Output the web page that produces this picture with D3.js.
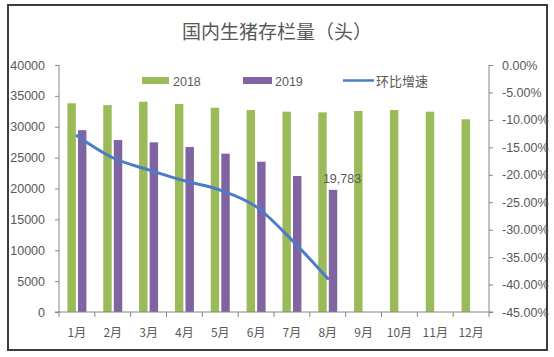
<!DOCTYPE html>
<html>
<head>
<meta charset="utf-8">
<script src="https://cdn.jsdelivr.net/npm/d3@7/dist/d3.min.js"></script>
<style>
html,body{margin:0;padding:0;background:#fff;}
svg{display:block;}
text{font-family:"Liberation Sans","Noto Sans CJK SC",sans-serif;fill:#595959;}
.cjk{font-family:"Noto Sans CJK SC",sans-serif;}
</style>
</head>
<body>
<svg id="chart" width="554" height="357"></svg>
<script>
const months = ["1月","2月","3月","4月","5月","6月","7月","8月","9月","10月","11月","12月"];
const series = ["2018","2019"];
const values2018 = [33800,33500,34050,33680,33080,32710,32440,32330,32550,32710,32440,31210];
const values2019 = [29450,27850,27480,26720,25640,24340,22020,19783];
const growth = [-12.9,-16.9,-19.1,-21.1,-22.8,-25.8,-31.9,-38.9];
const leftTicks = [0,5000,10000,15000,20000,25000,30000,35000,40000];
const rightTicks = [0,-5,-10,-15,-20,-25,-30,-35,-40,-45];
const labelText = "19,783";

const svg = d3.select("#chart");
const colors = {"2018":"#9BBB59","2019":"#8064A2",line:"#4A7CC7"};
const plot = {left:59,right:489,top:65,bottom:312};

// border
svg.append("rect").attr("x",8).attr("y",5).attr("width",539).attr("height",345)
  .attr("fill","#fff").attr("stroke","#3c3c3c").attr("stroke-width",2);

const x = d3.scaleBand().domain(months).range([plot.left,plot.right]).paddingInner(0).paddingOuter(0);
const bw = x.bandwidth();
const x1 = d3.scaleBand().domain(series).range([bw/2-9.5,bw/2+9.5]).paddingInner(0.2);
const yL = d3.scaleLinear().domain([0,40000]).range([plot.bottom,plot.top]);
const yR = d3.scaleLinear().domain([-45,0]).range([plot.bottom,plot.top]);

// bars
const data2018 = months.map((m,i)=>({m,v:values2018[i],s:"2018"}));
const data2019 = values2019.map((v,i)=>({m:months[i],v,s:"2019"}));
[data2018,data2019].forEach(d=>{
  svg.append("g").selectAll("rect").data(d).join("rect")
    .attr("x",e=>x(e.m)+x1(e.s))
    .attr("width",x1.bandwidth())
    .attr("y",e=>yL(e.v))
    .attr("height",e=>yL(0)-yL(e.v))
    .attr("fill",e=>colors[e.s]);
});

// line
const lineGen = d3.line().x((d,i)=>x(months[i])+bw/2).y(d=>yR(d)).curve(d3.curveMonotoneX);
svg.append("path").datum(growth).attr("d",lineGen).attr("fill","none")
  .attr("stroke",colors.line).attr("stroke-width",3).attr("stroke-linecap","round");

// data label
svg.append("text")
  .attr("x",x(months[7])+x1("2019")+x1.bandwidth()/2+9)
  .attr("y",yL(values2019[7])-7)
  .attr("text-anchor","middle").attr("font-size",12.5).text(labelText);

// left axis
const axisColor = "#868686";
const gL = svg.append("g").attr("transform",`translate(${plot.left},0)`)
  .call(d3.axisLeft(yL).tickValues(leftTicks).tickSize(4).tickPadding(10).tickFormat(d3.format("d")));
gL.select(".domain").attr("stroke",axisColor).attr("d",`M-0,${plot.top}V${plot.bottom}`);
gL.selectAll(".tick line").attr("stroke",axisColor);
gL.selectAll(".tick text").attr("font-size",12.5).attr("fill","#595959")
  .style("font-family","'Liberation Sans',sans-serif");

// right axis
const gR = svg.append("g").attr("transform",`translate(${plot.right},0)`)
  .call(d3.axisRight(yR).tickValues(rightTicks).tickSize(4).tickPadding(9).tickFormat(d=>d.toFixed(2)+"%"));
gR.select(".domain").attr("stroke",axisColor).attr("d",`M0,${plot.top}V${plot.bottom}`);
gR.selectAll(".tick line").attr("stroke",axisColor);
gR.selectAll(".tick text").attr("font-size",12.5).attr("fill","#595959")
  .style("font-family","'Liberation Sans',sans-serif");

// bottom axis
const gB = svg.append("g");
gB.append("line").attr("x1",plot.left-4).attr("x2",plot.right+4)
  .attr("y1",plot.bottom).attr("y2",plot.bottom).attr("stroke",axisColor);
const bounds = months.map(m=>x(m)).concat([plot.right]);
gB.selectAll("line.tk").data(bounds).join("line").attr("class","tk")
  .attr("x1",d=>d).attr("x2",d=>d).attr("y1",plot.bottom).attr("y2",plot.bottom+5)
  .attr("stroke",axisColor);
gB.selectAll("text").data(months).join("text")
  .attr("class","cjk")
  .attr("x",m=>x(m)+bw/2).attr("y",plot.bottom+25)
  .attr("text-anchor","middle").attr("font-size",12).text(m=>m);

// title
svg.append("text").attr("class","cjk").attr("x",277).attr("y",39)
  .attr("text-anchor","middle").attr("font-size",19).text("国内生猪存栏量（头）");

// legend
const lg = svg.append("g");
lg.append("rect").attr("x",142).attr("y",77).attr("width",27).attr("height",7).attr("fill",colors["2018"]);
lg.append("text").attr("x",173).attr("y",85.5).attr("font-size",12.5).text("2018");
lg.append("rect").attr("x",243).attr("y",77).attr("width",29).attr("height",7).attr("fill",colors["2019"]);
lg.append("text").attr("x",275).attr("y",85.5).attr("font-size",12.5).text("2019");
lg.append("line").attr("x1",343).attr("x2",374).attr("y1",80.5).attr("y2",80.5)
  .attr("stroke",colors.line).attr("stroke-width",2.5);
lg.append("text").attr("class","cjk").attr("x",376).attr("y",85.5).attr("font-size",13).text("环比增速");
</script>
</body>
</html>
